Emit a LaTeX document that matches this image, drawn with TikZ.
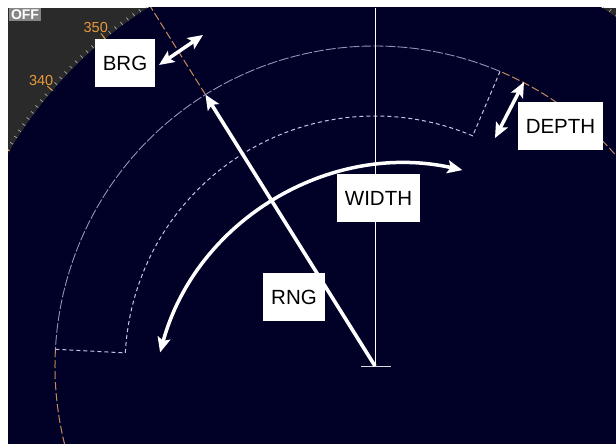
\documentclass[tikz,border=0pt]{standalone}
\usepackage{fontspec}
\setmainfont{Liberation Sans}
\usetikzlibrary{arrows.meta,calc}
\definecolor{RadarNavy}{HTML}{010128}
\definecolor{RadarGrey}{HTML}{2A2A2A}
\definecolor{RadarOrange}{HTML}{E89A3C}
\definecolor{RingOrange}{HTML}{C88A5A}
\definecolor{SectorLine}{HTML}{C4C4E4}
\definecolor{OffGrey}{HTML}{858585}

\begin{document}
\begin{tikzpicture}[x=1pt,y=1pt,
  tag/.style={rectangle,fill=white,text=black,font=\fontsize{20.5}{24}\selectfont,inner xsep=8pt,inner ysep=0pt,minimum height=48pt},
  bearing/.style={text=RadarOrange,font=\fontsize{14.5}{16}\selectfont,inner sep=0pt},
  minortick/.style={draw=white!60!RadarGrey,line width=0.7pt},
  majortick/.style={draw=RadarOrange,line width=0.9pt},
  ring/.style={draw=RingOrange,line width=1pt,dash pattern=on 8pt off 3pt},
  sectorouter/.style={draw=SectorLine!75!RadarNavy,line width=0.9pt,dash pattern=on 10pt off 2pt},
  sector/.style={draw=SectorLine,line width=1pt,dash pattern=on 4pt off 3pt},
  cursor/.style={draw=white,line width=0.8pt},
  arrow/.style={{Stealth[length=15pt,width=13pt,inset=3pt]}-{Stealth[length=15pt,width=13pt,inset=3pt]},draw=white,line width=3.5pt},
  rngarrow/.style={-{Stealth[length=15pt,width=13pt,inset=3pt]},draw=white,line width=3.6pt}
]
\useasboundingbox (0,0) rectangle (616,444);
\fill[white] (0,0) rectangle (616,444);
\begin{scope}
  \clip (8,0) rectangle (616,436);
  \fill[RadarGrey] (8,0) rectangle (616,436);
  \fill[RadarNavy] (375,78) circle[radius=424];
  \begin{scope}[shift={(375,78)}]
    % bearing scale
    \foreach \a in {40.5,41.5,...,170.5}
      \draw[minortick] (\a:424.5) -- (\a:428);
    \foreach \a in {39.5,49.5,...,169.5}
      \draw[majortick] (\a:424) -- (\a:431);
    \node[bearing] (lbl350) at (129.5:439) {350};
    \node[bearing] (lbl340) at (139.5:439) {340};
    % radar points
    \coordinate (ctr) at (0,0);
    \coordinate (top) at (0,358);
    \coordinate (tickl) at (-14,0);
    \coordinate (tickr) at (16,0);
    \coordinate (rngtip) at (122:320);
    \coordinate (brgend) at (122:424);
    \coordinate (wctr) at (32,-54);
    \coordinate (wstart) at ($(wctr)+(164.7:256)$);
    % range ring and sector
    \draw[ring] (177:320) arc[start angle=177,end angle=427,radius=320];
    \draw[ring] (rngtip) -- (brgend);
    \draw[sectorouter] (67:320) arc[start angle=67,end angle=177,radius=320];
    \draw[sector] (177:320) -- (177:250) arc[start angle=177,end angle=67,radius=250] -- (67:320);
    \draw[cursor] (ctr) -- (top);
    \draw[cursor,draw=white!85!RadarNavy] (tickl) -- (tickr);
    \draw[rngarrow] (ctr) -- (rngtip);
    \draw[arrow] (wstart) arc[start angle=164.7,end angle=77.5,radius=256];
  \end{scope}
\end{scope}
\node[fill=OffGrey,text=white,font=\bfseries\fontsize{14}{14}\selectfont,inner sep=0pt,minimum width=32pt,minimum height=13pt] (off) at (25,429.5) {OFF};
\coordinate (brga) at (159,379);
\coordinate (brgb) at (203,409);
\coordinate (deptha) at (524,362);
\coordinate (depthb) at (495,306);
\draw[arrow] (brga) -- (brgb);
\draw[arrow] (deptha) -- (depthb);
\node[tag] (brg) at (125,381) {BRG};
\node[tag] (depth) at (560.5,317.5) {DEPTH};
\node[tag] (width) at (378.5,245.5) {WIDTH};
\node[tag] (rng) at (294,146.5) {RNG};
\end{tikzpicture}
\end{document}
